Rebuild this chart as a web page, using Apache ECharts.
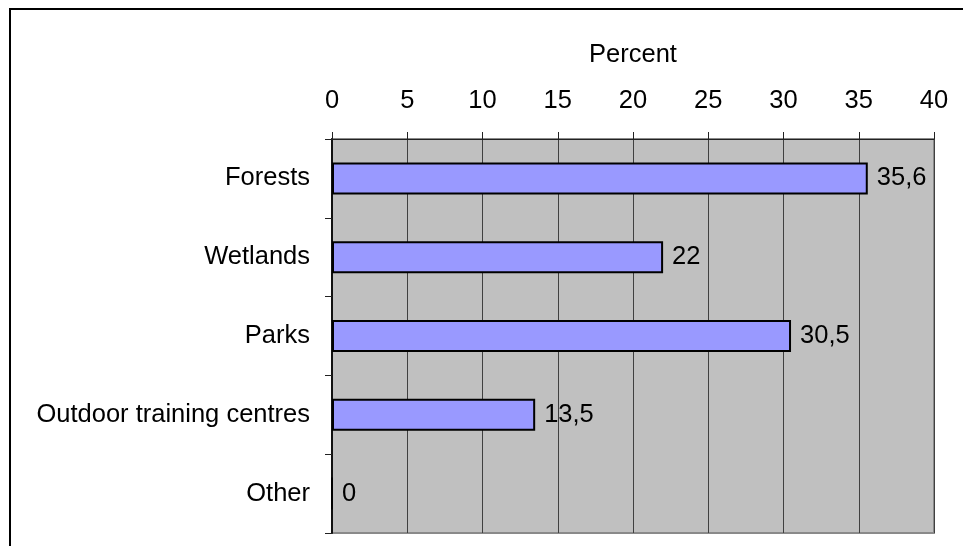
<!DOCTYPE html>
<html>
<head>
<meta charset="utf-8">
<style>
  html, body { margin: 0; padding: 0; background: #fff; }
  #chart { width: 963px; height: 546px; }
</style>
<script src="https://cdn.jsdelivr.net/npm/echarts@6/dist/echarts.min.js"></script>
</head>
<body>
<div id="chart"></div>
<script>
// Share of activities by type of place, in percent
const categories = ['Forests', 'Wetlands', 'Parks', 'Outdoor training centres', 'Other'];
const percentValues = [35.6, 22, 30.5, 13.5, 0];
const axisTitle = 'Percent';

const FONT = '"Liberation Sans", Arial, sans-serif';
const FS = 25.5;
const chart = echarts.init(document.getElementById('chart'));

chart.setOption({
  animation: false,
  backgroundColor: '#ffffff',
  textStyle: { fontFamily: FONT },
  graphic: [{
    type: 'rect',
    shape: { x: 10, y: 9, width: 1200, height: 1200 },
    style: { fill: 'none', stroke: '#000', lineWidth: 2 },
    silent: true
  }],
  grid: {
    left: 332, right: 29, top: 139, bottom: 13,
    show: true,
    backgroundColor: '#c0c0c0',
    borderColor: '#8a8a8a',
    borderWidth: 2
  },
  xAxis: {
    type: 'value',
    position: 'top',
    min: 0, max: 40, interval: 5,
    name: axisTitle,
    nameLocation: 'middle',
    nameGap: 71,
    nameTextStyle: { color: '#000', fontSize: FS, fontFamily: FONT },
    axisLine: { show: true, lineStyle: { color: '#222', width: 1 } },
    axisTick: { show: true, length: 7, lineStyle: { color: '#222' } },
    axisLabel: { color: '#000', fontSize: FS, margin: 25, fontFamily: FONT },
    splitLine: { show: true, lineStyle: { color: '#404040', width: 1 } }
  },
  yAxis: {
    type: 'category',
    data: categories,
    inverse: true,
    axisLine: { show: true, lineStyle: { color: '#111', width: 2 } },
    axisTick: { show: true, length: 7, lineStyle: { color: '#222' } },
    axisLabel: { color: '#000', fontSize: FS, margin: 22, fontFamily: FONT },
    splitLine: { show: false }
  },
  series: [{
    type: 'bar',
    data: percentValues,
    barWidth: 32,
    itemStyle: { color: '#9999ff', borderColor: '#000', borderWidth: 2 },
    label: {
      show: true,
      position: 'right',
      distance: 9,
      color: '#000',
      fontSize: FS,
      fontFamily: FONT,
      formatter: p => String(p.value).replace('.', ',')
    }
  }]
});
</script>
</body>
</html>
